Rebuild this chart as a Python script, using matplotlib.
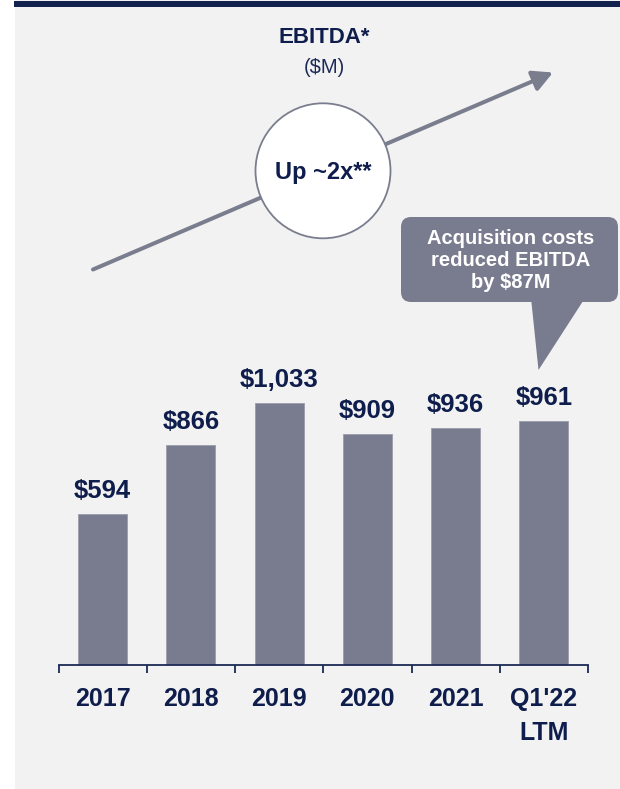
import matplotlib
matplotlib.use("Agg")
import matplotlib.pyplot as plt
from matplotlib.patches import Rectangle, Circle, FancyBboxPatch, Polygon, FancyArrowPatch

plt.rcParams['font.family'] = ['Liberation Sans', 'DejaVu Sans']

# ---- data ----
categories = ["2017", "2018", "2019", "2020", "2021", "Q1'22\nLTM"]
values = [594, 866, 1033, 909, 936, 961]
value_labels = ["$594", "$866", "$1,033", "$909", "$936", "$961"]
title = "EBITDA*"
subtitle = "($M)"
badge_text = "Up ~2x**"
callout_text = "Acquisition costs\nreduced EBITDA\nby $87M"

NAVY = "#0e1d4b"
BAR = "#797c8e"
PANEL = "#f2f2f2"

W, H = 620, 789
fig = plt.figure(figsize=(W / 100, H / 100), dpi=100, facecolor="white")

# background / decoration axes in pixel coordinates
bg = fig.add_axes([0, 0, 1, 1], zorder=0)
bg.set_xlim(0, W)
bg.set_ylim(H, 0)
bg.axis("off")
bg.add_patch(Rectangle((15, 0), W - 15, H + 2, facecolor=PANEL, edgecolor="none"))
bg.add_patch(Rectangle((14, 0.5), W - 14, 6, facecolor="#13214f", edgecolor="none"))

# ---- bar chart axes ----
x0, x1 = 58.5, 588
y_base, y_top = 665, 300
ax = fig.add_axes([x0 / W, (H - y_base) / H, (x1 - x0) / W, (y_base - y_top) / H], zorder=2)
ax.patch.set_alpha(0)
scale = (665 - 514.3) / 594.0  # px per unit
ax.set_ylim(0, (y_base - y_top) / scale)
ax.set_xlim(-0.5, len(values) - 0.5)

xs = list(range(len(values)))
ax.bar(xs, values, width=0.555, color=BAR, edgecolor="#9a9cab", linewidth=0.6, zorder=2)
for x, v, lab in zip(xs, values, value_labels):
    ax.annotate(lab, (x, v), xytext=(0, 11.5), textcoords="offset points",
                ha="center", va="baseline", fontsize=18.5, fontweight="bold", color=NAVY)

for s in ["top", "right", "left"]:
    ax.spines[s].set_visible(False)
ax.spines["bottom"].set_color("#1b2a55")
ax.spines["bottom"].set_linewidth(1.3)
ax.set_yticks([])
ax.set_xticks(xs)
ax.set_xticklabels(categories, fontsize=18, fontweight="bold", color=NAVY, linespacing=1.5)
ax.tick_params(axis="x", which="major", length=0, pad=16)
ax.set_xticks([i - 0.5 for i in range(len(values) + 1)], minor=True)
ax.tick_params(axis="x", which="minor", length=6, width=1.3, color="#1b2a55", direction="out")

# ---- overlay decorations ----
ov = fig.add_axes([0, 0, 1, 1], zorder=3)
ov.set_xlim(0, W)
ov.set_ylim(H, 0)
ov.axis("off")
ov.patch.set_alpha(0)

ov.text(324, 37, title, ha="center", va="center", fontsize=16, fontweight="bold", color=NAVY)
ov.text(324, 67, subtitle, ha="center", va="center", fontsize=14.5, color="#1c2a58")

arrow = FancyArrowPatch((93, 269.5), (553, 72.5), arrowstyle="-|>,head_length=0.8,head_width=0.42",
                        mutation_scale=15, lw=2.9, color="#7a7d8e", shrinkA=0, shrinkB=0, zorder=1)
ov.add_patch(arrow)
ov.add_patch(Circle((323, 170.8), 67.5, facecolor="white", edgecolor="#7a7d8e", lw=1.3, zorder=2))
ov.text(323, 172, badge_text, ha="center", va="center", fontsize=17, fontweight="bold", color=NAVY, zorder=3)

ov.add_patch(FancyBboxPatch((401, 217), 217, 85, boxstyle="round,pad=0,rounding_size=10",
                            facecolor=BAR, edgecolor="none", zorder=2))
ov.add_patch(Polygon([(531, 298), (585, 298), (538.5, 370)], closed=True,
                     facecolor=BAR, edgecolor="none", zorder=2))
ov.text(511, 261, callout_text, ha="center", va="center", fontsize=14.5, fontweight="bold",
        color="white", linespacing=1.2, zorder=3)

fig.savefig("out.png", dpi=100, facecolor="white")
